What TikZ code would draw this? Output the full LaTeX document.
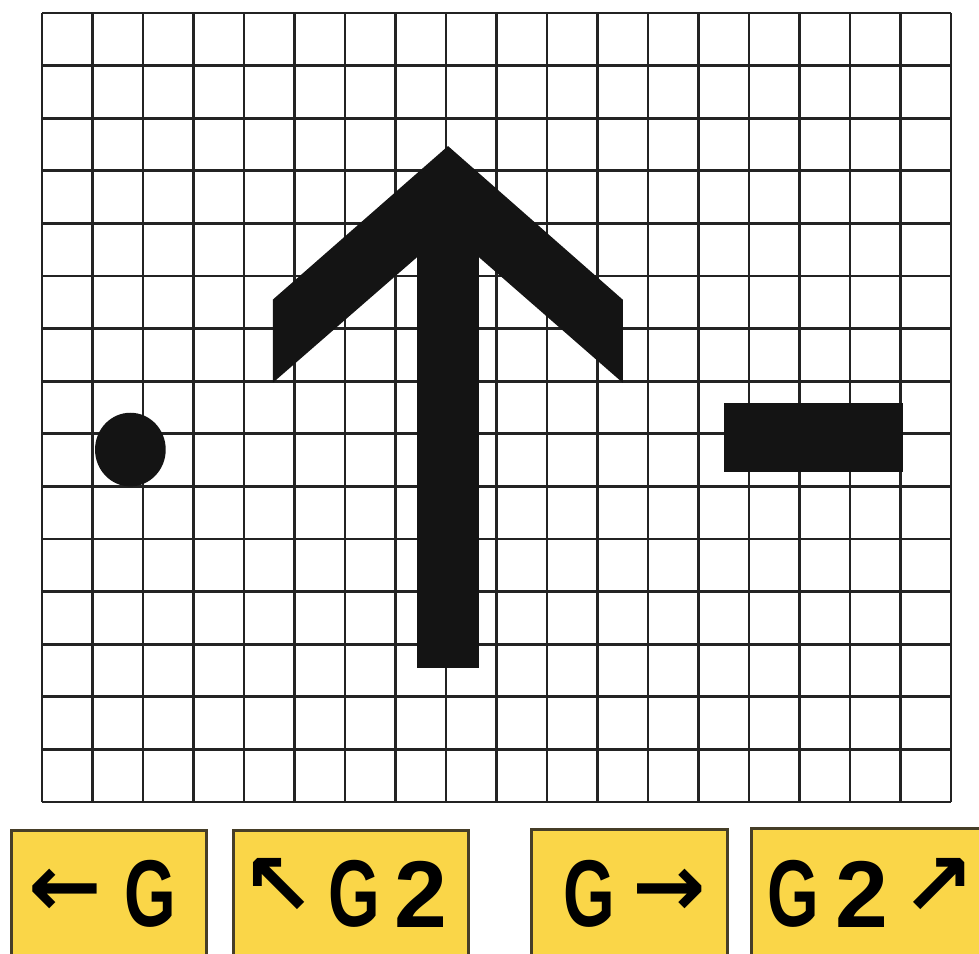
\documentclass[tikz,border=0pt]{standalone}
\usepackage{graphicx}
\usepackage{fontspec}
\newfontfamily\signfont{Liberation Sans}
\newfontfamily\arrowfont{DejaVu Sans}
\definecolor{signyellow}{RGB}{250,214,72}
\definecolor{signedge}{RGB}{70,62,40}
\definecolor{gridink}{RGB}{35,35,35}
\newcommand{\narrowG}{\scalebox{0.7}[1]{G}}

\begin{document}
\begin{tikzpicture}[
    gridline/.style={draw=gridink, line width=1.5pt},
    inkfill/.style={fill=black!92},
    sign/.style={
        draw=signedge,
        fill=signyellow,
        line width=1.5pt,
        inner sep=0pt,
        anchor=north west
    },
    glyph/.style={inner sep=0pt, font=\signfont\bfseries\fontsize{54}{54}\selectfont},
    arrowglyph/.style={inner sep=0pt, font=\arrowfont\bfseries\fontsize{50}{50}\selectfont}
]

% Frame
\clip (0,0) rectangle (19.58,19.06);
\fill[white] (0,0) rectangle (19.58,19.06);

% Grid and markings
\begin{scope}[shift={(0.84,3.02)}, x=1.01cm, y=1.052cm]
\foreach \i in {0,...,18} \draw[gridline] (\i,0) -- (\i,15);
\foreach \j in {0,...,15} \draw[gridline] (0,\j) -- (18,\j);
\fill[inkfill] (1.75,6.7) circle [radius=0.7];
\fill[inkfill] (13.5,6.27) rectangle (17.05,7.58);
\fill[inkfill] (7.43,2.55) rectangle (8.65,11);
\fill[inkfill] (8.04,12.47) -- (11.5,9.55) -- (11.5,7.97) -- (8.04,10.87)
    -- (4.57,7.97) -- (4.57,9.55) -- cycle;
\end{scope}

% Signs
\node[sign, minimum width=3.9cm, minimum height=3.2cm] (s1) at (0.2,2.48) {};
\node[sign, minimum width=4.7cm, minimum height=3.2cm] (s2) at (4.64,2.48) {};
\node[sign, minimum width=3.92cm, minimum height=3.2cm] (s3) at (10.6,2.5) {};
\node[sign, minimum width=5cm, minimum height=3.2cm] (s4) at (15.0,2.52) {};

% Sign texts
\node[arrowglyph] (s1a) at (1.3,1.2) {←};
\node[glyph] (s1g) at (3.0,1.18) {\narrowG};
\node[arrowglyph] (s2a) at (5.57,1.33) {↖};
\node[glyph] (s2g) at (7.08,1.18) {\narrowG};
\node[glyph] (s2n) at (8.42,1.18) {2};
\node[glyph] (s3g) at (11.79,1.18) {\narrowG};
\node[arrowglyph] (s3a) at (13.38,1.2) {→};
\node[glyph] (s4g) at (15.86,1.18) {\narrowG};
\node[glyph] (s4n) at (17.23,1.18) {2};
\node[arrowglyph] (s4a) at (18.76,1.33) {↗};

\end{tikzpicture}
\end{document}
